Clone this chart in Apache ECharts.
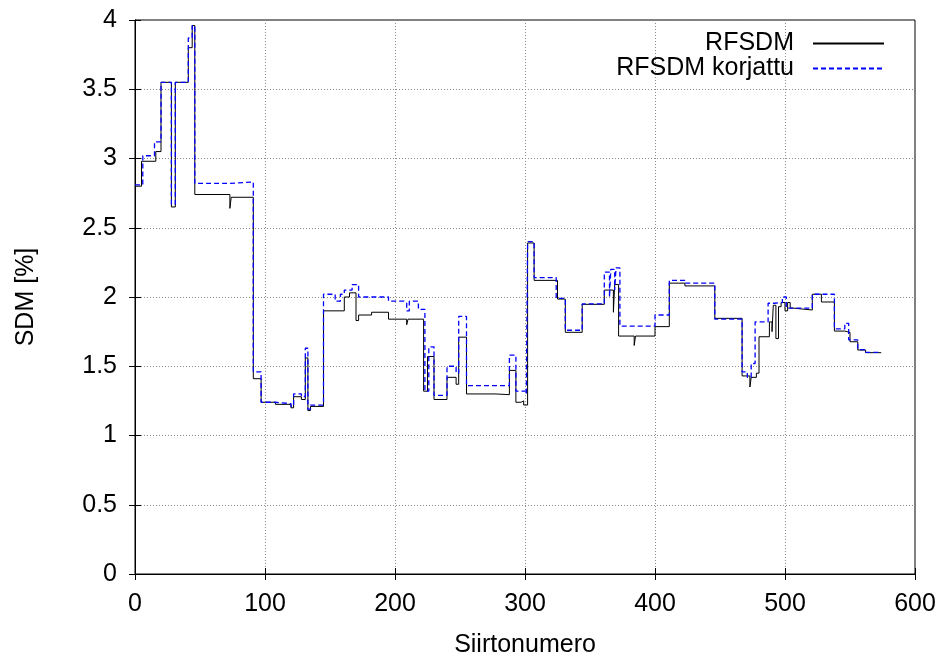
<!DOCTYPE html>
<html>
<head>
<meta charset="utf-8">
<script src="https://cdn.jsdelivr.net/npm/echarts@6/dist/echarts.min.js"></script>
<style>
html, body { margin: 0; padding: 0; background: #fff; }
#main { width: 946px; height: 657px; }
</style>
</head>
<body>
<div id="main"></div>
<script>
// RFSDM, arvot muutoskohdissa (step: 'end')
var rfsdmX = [0, 5, 16, 20, 28, 31, 41, 44, 46, 73, 74, 91, 97, 108, 120, 122, 128, 131, 133, 135,
    145, 161, 165, 170, 172, 182, 195, 209, 210, 222, 225, 230, 240, 247, 249, 255, 277, 288, 293, 297,
    299, 302, 307, 325, 331, 344, 361, 368, 369, 372, 384, 385, 400, 411, 423, 446, 467, 473, 474, 478,
    480, 488, 490, 491, 493, 495, 497, 500, 502, 504, 506, 521, 528, 538, 546, 550, 556, 562, 574]
var rfsdmY = [2.80, 2.98, 3.05, 3.55, 2.65, 3.55, 3.80, 3.96, 2.74, 2.64, 2.72, 1.41, 1.24, 1.225, 1.20, 1.28, 1.26, 1.56, 1.18, 1.21,
    1.90, 2.00, 2.03, 1.83, 1.87, 1.89, 1.84, 1.80, 1.84, 1.32, 1.57, 1.26, 1.42, 1.37, 1.71, 1.30, 1.295, 1.47, 1.24, 1.25,
    1.22, 2.39, 2.12, 1.985, 1.745, 1.947, 2.05, 1.89, 2.09, 1.718, 1.65, 1.718, 1.786, 2.10, 2.08, 1.846, 1.43, 1.35, 1.42, 1.45,
    1.713, 1.82, 1.75, 1.94, 1.70, 1.93, 1.96, 1.90, 1.96, 1.92, 1.906, 2.02, 1.964, 1.754, 1.744, 1.677, 1.617, 1.598, 1.598]

// RFSDM korjattu
var korjX = [0, 6, 15, 20, 28, 31, 41, 44, 46, 73, 74, 91, 97, 108, 120, 122, 128, 131, 133, 135,
    145, 154, 158, 161, 167, 172, 195, 207, 209, 211, 218, 223, 226, 230, 240, 247, 249, 255, 288, 293,
    301, 302, 307, 324, 331, 344, 361, 365, 366, 369, 370, 373, 400, 411, 423, 446, 467, 471, 474, 477,
    487, 492, 498, 501, 506, 521, 538, 546, 549, 556, 562, 574]
var korjY = [2.81, 3.02, 3.12, 3.55, 2.67, 3.55, 3.87, 3.96, 2.82, 2.81, 2.83, 1.46, 1.24, 1.23, 1.21, 1.30, 1.28, 1.63, 1.19, 1.22,
    2.02, 1.97, 2.02, 2.05, 2.09, 2.00, 1.97, 1.96, 1.90, 1.97, 1.91, 1.32, 1.64, 1.29, 1.50, 1.45, 1.86, 1.36, 1.58, 1.32,
    1.30, 2.40, 2.14, 1.99, 1.76, 1.95, 2.18, 2.00, 2.20, 2.05, 2.21, 1.79, 1.87, 2.12, 2.10, 1.84, 1.46, 1.42, 1.52, 1.82,
    1.955, 1.96, 2.00, 1.92, 1.92, 2.02, 1.77, 1.81, 1.69, 1.62, 1.60, 1.60]

var seriesNames = ['RFSDM', 'RFSDM korjattu']

var pairs = function(xs, ys) {
    var out = []
    for (var i = 0; i < xs.length; i++) {
        out.push([xs[i], ys[i]])
    }
    return out
}

var font = 'Liberation Sans, Arial, Helvetica, sans-serif'
var gridLine = { show: true, lineStyle: { color: '#8a8a8a', type: [1, 2], width: 1 } }

var option = {
    animation: false,
    backgroundColor: '#fff',
    textStyle: { fontFamily: font },
    grid: {
        left: 135, right: 31, top: 20, bottom: 83,
        outerBoundsMode: 'none',
        show: true, borderColor: '#000', borderWidth: 1
    },
    legend: {
        orient: 'vertical',
        right: 56,
        top: 26,
        align: 'right',
        itemWidth: 71,
        itemHeight: 14,
        itemGap: 0,
        itemStyle: { opacity: 0 },
        textStyle: { fontSize: 25, color: '#000', fontFamily: font, padding: [0, 14, 0, 0] },
        data: seriesNames
    },
    xAxis: [{
        type: 'value',
        min: 0, max: 600, interval: 100,
        name: 'Siirtonumero',
        nameLocation: 'middle',
        nameGap: 59,
        nameTextStyle: { fontSize: 25, color: '#000', fontFamily: font },
        axisLine: { show: true, lineStyle: { color: '#000' } },
        axisTick: { show: true, inside: true, length: 6, lineStyle: { color: '#000' } },
        axisLabel: { fontSize: 25, color: '#000', margin: 18, fontFamily: font },
        splitLine: gridLine
    }, {
        type: 'value',
        position: 'top',
        min: 0, max: 600, interval: 100,
        axisLine: { show: true, lineStyle: { color: '#000' } },
        axisTick: { show: true, inside: true, length: 6, lineStyle: { color: '#000' } },
        axisLabel: { show: false },
        splitLine: { show: false }
    }],
    yAxis: [{
        type: 'value',
        min: 0, max: 4, interval: 0.5,
        name: 'SDM [%]',
        nameLocation: 'middle',
        nameGap: 96,
        nameTextStyle: { fontSize: 25, color: '#000', fontFamily: font },
        axisLine: { show: true, lineStyle: { color: '#000' } },
        axisTick: { show: true, inside: true, length: 6, lineStyle: { color: '#000' } },
        axisLabel: { fontSize: 25, color: '#000', margin: 18, fontFamily: font },
        splitLine: gridLine
    }, {
        type: 'value',
        position: 'right',
        min: 0, max: 4, interval: 0.5,
        axisLine: { show: true, lineStyle: { color: '#000' } },
        axisTick: { show: true, inside: true, length: 6, lineStyle: { color: '#000' } },
        axisLabel: { show: false },
        splitLine: { show: false }
    }],
    series: [{
        name: seriesNames[0],
        type: 'line',
        step: 'end',
        symbol: 'none',
        color: '#000',
        lineStyle: { color: '#000', width: 1 },
        data: pairs(rfsdmX, rfsdmY)
    }, {
        name: seriesNames[1],
        type: 'line',
        step: 'end',
        symbol: 'none',
        color: '#0000ff',
        lineStyle: { color: '#0000ff', width: 1.3, type: [5, 3] },
        data: pairs(korjX, korjY)
    }]
}

echarts.init(document.getElementById('main')).setOption(option)
</script>
</body>
</html>
